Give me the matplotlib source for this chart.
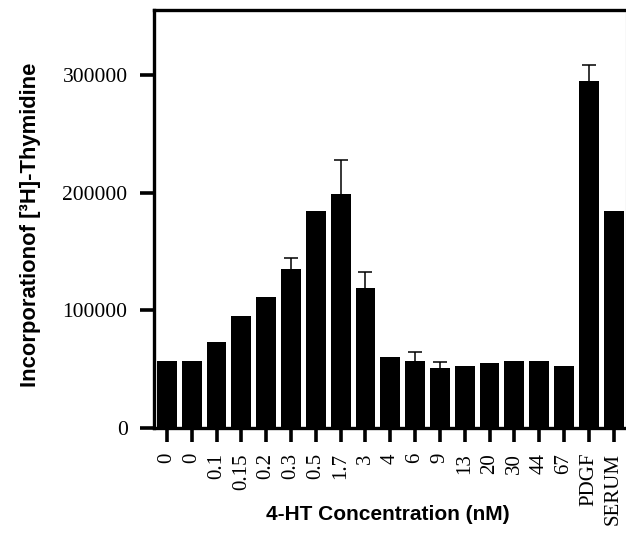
import matplotlib
matplotlib.use("Agg")
import matplotlib.pyplot as plt
import numpy as np

categories = ["0", "0", "0.1", "0.15", "0.2", "0.3", "0.5", "1.7", "3", "4", "6", "9",
              "13", "20", "30", "44", "67", "PDGF", "SERUM"]
values = [57000, 57000, 73000, 94800, 111200, 135100, 184700, 198400, 118800, 60400,
          56900, 51100, 52800, 54900, 57000, 57000, 52800, 294400, 184700]
err_upper = [0, 0, 0, 0, 0, 9300, 0, 29500, 13400, 0,
             7600, 5200, 0, 0, 0, 0, 0, 14000, 0]
yticks = [0, 100000, 200000, 300000]
ytick_labels = ["0", "100000", "200000", "300000"]

fig = plt.figure(figsize=(6.26, 5.40), dpi=100)
ax = fig.add_axes([154/626, 1 - 428/540, (626 - 154)/626, (428 - 10)/540])

x = np.arange(len(categories))
ax.bar(x, values, width=0.8, color="black", zorder=2)
mask = np.array(err_upper) > 0
eb = ax.errorbar(x[mask], np.array(values)[mask],
                 yerr=[np.zeros(mask.sum()), np.array(err_upper)[mask]],
                 fmt="none", ecolor="black", elinewidth=1.1, capsize=5, capthick=1.1, zorder=3)
caps = eb[1]
if len(caps) >= 2:
    caps[0].set_visible(False)

ax.set_xlim(-0.52, 18.5)
ax.set_ylim(0, 355000)
ax.set_xticks(x)
ax.set_xticklabels(categories, rotation=90, family="Liberation Serif", fontsize=15)
ax.set_yticks(yticks)
ax.set_yticklabels(ytick_labels, family="Liberation Serif", fontsize=15.5)

for s in ["left", "top", "bottom", "right"]:
    ax.spines[s].set_linewidth(2.4)
ax.spines["right"].set_color("#dddddd")
ax.spines["right"].set_linewidth(1.0)

ax.tick_params(axis="both", direction="out", length=10, width=2.6, color="black")
ax.tick_params(axis="x", pad=8)
ax.tick_params(axis="y", pad=9)

fig.text(31/626, 1 - 225/540, "Incorporationof [\u00b3H]-Thymidine", rotation=90,
         ha="center", va="center", family="Liberation Sans", fontweight="bold", fontsize=15.8)
fig.text(388/626, 1 - 514/540, "4-HT Concentration (nM)", ha="center", va="center",
         family="Liberation Sans", fontweight="bold", fontsize=15)

fig.savefig("out.png", dpi=100)
